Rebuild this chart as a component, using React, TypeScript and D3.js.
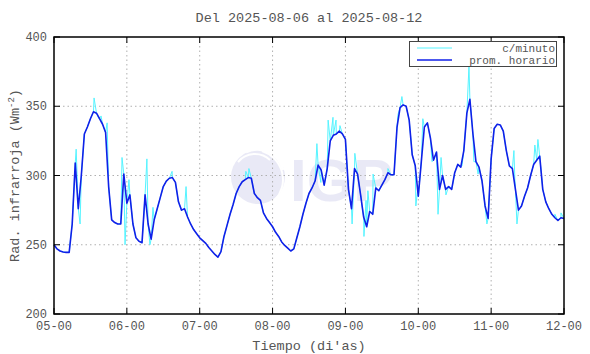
import React from "react";
import * as d3 from "d3";

const title = "Del 2025-08-06 al 2025-08-12";
const xLabel = "Tiempo (di'as)";
const xTickLabels = ["05-00", "06-00", "07-00", "08-00", "09-00", "10-00", "11-00", "12-00"];
const yTicks = [200, 250, 300, 350, 400];
const legendLabels = ["c/minuto", "prom. horario"];

// hourly means, hour 0 = 05-00 ... hour 168 = 12-00
const hourly = [
  250, 247, 245.5, 244.8, 244.5, 244.5, 265, 309, 276, 300,
  330, 335, 341, 346, 345, 341, 337, 331, 292, 268,
  266, 265, 265, 301, 280, 286, 265, 255, 252.5, 251.5,
  286, 265, 254, 268, 276, 284, 292, 296, 298, 298.5,
  295, 281, 275, 276, 270, 265, 261, 258, 255, 253,
  251, 248, 245.5, 243, 241, 245, 256, 264, 272, 279,
  287, 292, 295.5, 297, 298.5, 298, 287, 284, 282, 273,
  269, 266, 263, 259, 256, 252, 249.5, 247.5, 245.5, 247,
  255, 263, 272, 280, 287, 291, 296, 307.5, 304, 293,
  305, 325, 329, 330, 332, 330, 326, 290, 276, 305,
  301, 286, 270, 263, 274, 272, 291, 289, 293, 297,
  302, 300.5, 300.5, 335, 349, 351, 350, 340, 315, 307,
  285, 310, 335, 338, 327, 311, 317, 290, 300, 290,
  292, 290, 302, 308, 306, 318, 345, 355, 330, 310,
  306, 296, 278, 269, 312, 334, 337, 336.5, 332, 318,
  307, 305, 290, 275, 278, 285, 291, 300, 308, 311,
  314, 290, 281, 276, 272, 269.5, 267.5, 269.5, 269,
];

// minute readings that stray from the hourly mean: [hour, value]
const minuteSpikes: [number, number][] = [
  [7.3, 319], [8.6, 265], [13.2, 356], [14.8, 341], [15.5, 343], [17.5, 338],
  [22.4, 313], [23.4, 250], [24.7, 297], [30.6, 312], [31.6, 250], [32.6, 277],
  [38.9, 303], [43.5, 292], [63.2, 303], [64.2, 305], [86.6, 323], [87.9, 295],
  [90.3, 340], [91.9, 342], [92.9, 340], [94.2, 336], [98.2, 265], [99.1, 316],
  [102.1, 256], [102.8, 282], [103.4, 289], [105.1, 301], [110.0, 305], [113.3, 344],
  [114.6, 357], [119.2, 278], [119.9, 292], [121.5, 341], [124.5, 310], [126.2, 300],
  [126.5, 272], [127.5, 313], [129.1, 286], [134.4, 307], [136.7, 379], [138.3, 310],
  [139.7, 301], [141.6, 285], [142.6, 265], [151.5, 318], [151.8, 298], [152.5, 265],
  [158.4, 322], [159.4, 326], [165.0, 272], [167.0, 273],
];

const W = 590, H = 354;
const M = { left: 54, right: 564, top: 37, bottom: 314 };
const FONT = "'Liberation Mono', 'DejaVu Sans Mono', monospace";
const TXT = "#555";
const CYAN = "#55f4ff";
const BLUE = "#1020e8";

export default function App() {
  const x = d3.scaleLinear().domain([0, 168]).range([M.left, M.right]);
  const y = d3.scaleLinear().domain([200, 400]).range([M.bottom, M.top]);
  const hourlyPts: [number, number][] = hourly.map((v, i) => [i, v]);
  const minutePts: [number, number][] = [...hourlyPts, ...minuteSpikes].sort((a, b) => a[0] - b[0]);
  const line = d3.line<[number, number]>().x((d) => x(d[0])).y((d) => y(d[1]));
  const xTicks = xTickLabels.map((_, i) => i * 24);
  const tickLen = 6;

  return (
    <svg width={W} height={H} style={{ position: "absolute", left: 0, top: 0, background: "#fff" }}>
      {/* watermark */}
      <g opacity={0.55}>
        <circle cx={258} cy={177} r={27} fill="#d8d8f0" />
        <path d="M246,152 A26,26 0 0,1 283,170" stroke="#fff" strokeWidth={3} fill="none" />
        <path d="M238,162 A22,22 0 0,1 270,160" stroke="#fff" strokeWidth={2} fill="none" />
        <path d="M262,151 A30,30 0 0,1 275,200" stroke="#fff" strokeWidth={2} fill="none" />
        <text x={290} y={201} fontFamily="'Liberation Sans', Arial, sans-serif" fontWeight="bold" fontSize={60} fill="#d8d8f0">IGP</text>
      </g>

      {/* grid */}
      {xTicks.slice(1, -1).map((t) => (
        <line key={"gx" + t} x1={x(t)} x2={x(t)} y1={M.top} y2={M.bottom} stroke="#b0b0b0" strokeDasharray="1.5,3" />
      ))}
      {yTicks.slice(1, -1).map((t) => (
        <line key={"gy" + t} x1={M.left} x2={M.right} y1={y(t)} y2={y(t)} stroke="#b0b0b0" strokeDasharray="1.5,3" />
      ))}

      {/* data */}
      <path d={line(minutePts) || ""} fill="none" stroke={CYAN} strokeWidth={1} />
      <path d={line(hourlyPts) || ""} fill="none" stroke={BLUE} strokeWidth={1.6} strokeLinejoin="round" />

      {/* frame */}
      <rect x={M.left} y={M.top} width={M.right - M.left} height={M.bottom - M.top} fill="none" stroke="#000" strokeWidth={1.5} />
      {xTicks.map((t) => (
        <g key={"tx" + t}>
          <line x1={x(t)} x2={x(t)} y1={M.bottom} y2={M.bottom - tickLen} stroke="#000" />
          <line x1={x(t)} x2={x(t)} y1={M.top} y2={M.top + tickLen} stroke="#000" />
        </g>
      ))}
      {yTicks.map((t) => (
        <g key={"ty" + t}>
          <line x1={M.left} x2={M.left + tickLen} y1={y(t)} y2={y(t)} stroke="#000" />
          <line x1={M.right} x2={M.right - tickLen} y1={y(t)} y2={y(t)} stroke="#000" />
        </g>
      ))}

      {/* tick labels */}
      {xTickLabels.map((l, i) => (
        <text key={"lx" + l} x={x(xTicks[i])} y={330} textAnchor="middle" fontFamily={FONT} fontSize={12} fill={TXT}>{l}</text>
      ))}
      {yTicks.map((t) => (
        <text key={"ly" + t} x={47} y={y(t) + 4} textAnchor="end" fontFamily={FONT} fontSize={12} fill={TXT}>{t}</text>
      ))}

      {/* titles */}
      <text x={309} y={22} textAnchor="middle" fontFamily={FONT} fontSize={13.5} fill={TXT}>{title}</text>
      <text x={309} y={350} textAnchor="middle" fontFamily={FONT} fontSize={13.5} fill={TXT}>{xLabel}</text>
      <text transform={`translate(19,${(M.top + M.bottom) / 2}) rotate(-90)`} textAnchor="middle" fontFamily={FONT} fontSize={13.5} fill={TXT}>
        Rad. infrarroja (Wm<tspan dy={-5} fontSize={9}>-2</tspan><tspan dy={5}>)</tspan>
      </text>

      {/* legend */}
      <rect x={409.5} y={41.5} width={147} height={25} fill="#fff" stroke="#444" />
      <line x1={417} x2={452} y1={48} y2={48} stroke={CYAN} strokeWidth={1} />
      <line x1={417} x2={452} y1={60} y2={60} stroke={BLUE} strokeWidth={1.6} />
      <text x={555} y={52} textAnchor="end" fontFamily={FONT} fontSize={11} fill={TXT}>{legendLabels[0]}</text>
      <text x={555} y={64} textAnchor="end" fontFamily={FONT} fontSize={11} fill={TXT}>{legendLabels[1]}</text>
    </svg>
  );
}
